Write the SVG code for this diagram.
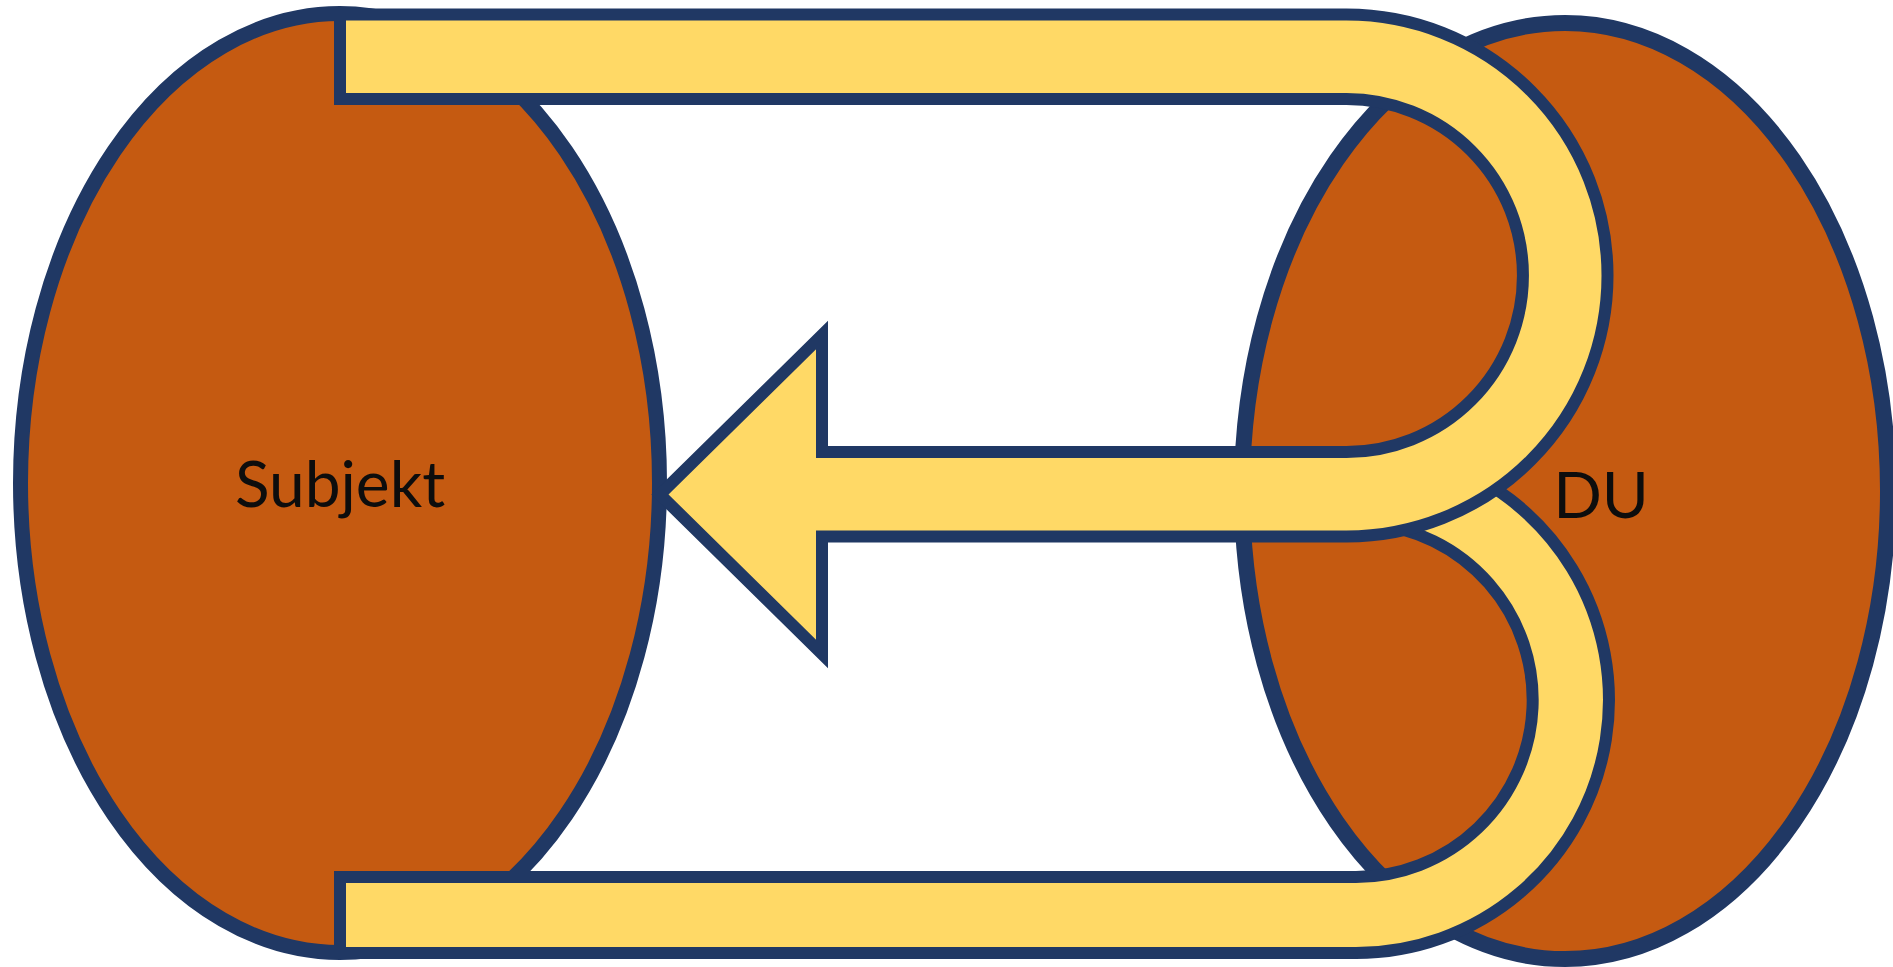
<svg xmlns="http://www.w3.org/2000/svg" width="1893" height="967" viewBox="0 0 1893 967">
  <style>
    .oval { fill: #C55A11; stroke: #203864; }
    .band { fill: #FFD966; stroke: #203864; stroke-width: 12; stroke-linejoin: miter; }
    .label { font-family: Lato, "Open Sans", "Liberation Sans", sans-serif; font-size: 64px; fill: #0D0D0D; text-anchor: middle; }
  </style>
  <rect width="1893" height="967" fill="#FFFFFF"/>
  <g id="subjekt">
    <ellipse class="oval" cx="340" cy="483" rx="319.5" ry="469.5" stroke-width="15"/>
  </g>
  <g id="du">
    <ellipse class="oval" cx="1565" cy="491" rx="323" ry="468" stroke-width="16"/>
  </g>
  <g id="connectors">
    <path id="lower-loop" class="band" d="M340 877 L1356 877 A177 177 0 0 0 1371.4 523.7 L1434.2 459.4 A253 253 0 0 1 1356 953 L340 953 Z"/>
    <path id="upper-arrow" class="band" d="M340 14.5 L1346.5 14.5 A261 261 0 0 1 1346.5 536.5 L822 536.5 L822 654 L660 494.5 L822 335 L822 452 L1346.5 452 A176.5 176.5 0 0 0 1346.5 99 L340 99 Z"/>
  </g>
  <g id="labels">
    <text class="label" x="340" y="507">Subjekt</text>
    <text class="label" x="1601" y="518">DU</text>
  </g>
</svg>
